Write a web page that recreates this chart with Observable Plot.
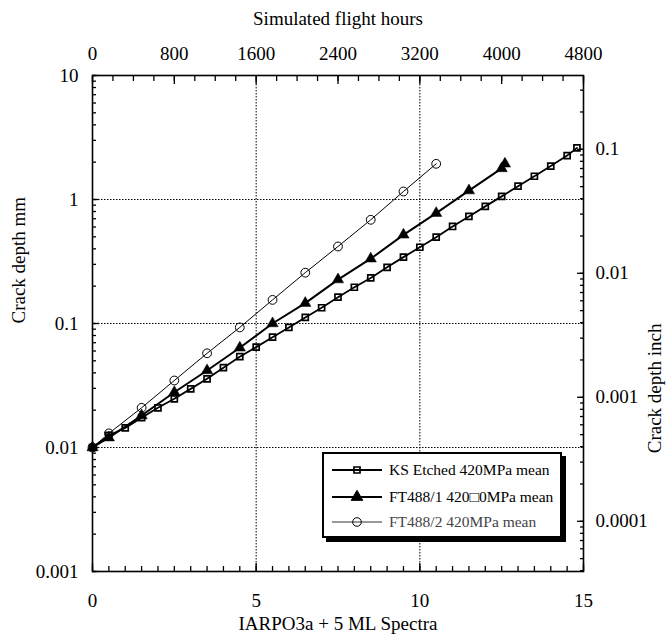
<!DOCTYPE html>
<html><head><meta charset="utf-8">
<script src="https://cdn.jsdelivr.net/npm/d3@7"></script>
<script src="https://cdn.jsdelivr.net/npm/@observablehq/plot@0.6"></script>
<style>
body{margin:0;background:#fff;}
#wrap{position:relative;width:667px;height:634px;}
#legend{position:absolute;left:322px;top:452px;width:240px;height:86px;box-sizing:border-box;border:2px solid #000;box-shadow:4px 4px 0 #000;background:#fff;font-family:"Liberation Serif",serif;font-size:15.5px;color:#000;}
#legend .row{position:absolute;left:8px;height:20px;display:flex;align-items:center;white-space:nowrap;}
#legend svg{display:block;margin-right:5px;}
</style></head><body><div id="wrap"></div>
<script>
// ---- data (crack depth in mm vs. number of IARPO3a + 5 ML spectra) ----
const ksSpectra = [0,0.5,1,1.5,2,2.5,3,3.5,4,4.5,5,5.5,6,6.5,7,7.5,8,8.5,9,9.5,10,10.5,11,11.5,12,12.5,13,13.5,14,14.5,14.8];
const ksDepth   = [0.01,0.0125,0.0144,0.0174,0.0209,0.0247,0.0297,0.0358,0.044,0.054,0.0645,0.0776,0.093,0.112,0.134,0.163,0.196,0.233,0.284,0.343,0.412,0.497,0.606,0.73,0.88,1.06,1.28,1.54,1.86,2.26,2.61];
const ft1Spectra = [0,0.5,1.5,2.5,3.5,4.5,5.5,6.5,7.5,8.5,9.5,10.5,11.5,12.5,12.6];
const ft1Depth   = [0.01,0.012,0.0181,0.0279,0.0418,0.0637,0.1,0.146,0.226,0.333,0.519,0.776,1.18,1.78,1.94];
const ft2Spectra = [0,0.5,1.5,2.5,3.5,4.5,5.5,6.5,7.5,8.5,9.5,10.5];
const ft2Depth   = [0.01,0.013,0.0209,0.0347,0.0575,0.093,0.155,0.257,0.418,0.686,1.16,1.94];

const seriesNames = ["KS Etched 420MPa mean", "FT488/1 420\u25A10MPa mean", "FT488/2 420MPa mean"];

const spectraTicks = [0,5,10,15];
const spectraLabels = ["0","5","10","15"];
const hourTicks = [0,800,1600,2400,3200,4000,4800];
const hourLabels = ["0","800","1600","2400","3200","4000","4800"];
const hoursPerSpectrum = 320;
const mmTicks = [0.001,0.01,0.1,1,10];
const mmLabels = ["0.001","0.01","0.1","1","10"];
const inchTicks = [0.0001,0.001,0.01,0.1];
const inchLabels = ["0.0001","0.001","0.01","0.1"];
const mmPerInch = 25.4;
const gridSpectra = [5,10];
const gridDepth = [0.01,0.1,1];

const xTitle = "IARPO3a + 5 ML Spectra";
const topTitle = "Simulated flight hours";
const yTitle = "Crack depth mm";
const y2Title = "Crack depth inch";

// ---- build table ----
const rows = [];
ksSpectra.forEach((s,i)=>rows.push({s, d: ksDepth[i], series: seriesNames[0]}));
ft1Spectra.forEach((s,i)=>rows.push({s, d: ft1Depth[i], series: seriesNames[1]}));
ft2Spectra.forEach((s,i)=>rows.push({s, d: ft2Depth[i], series: seriesNames[2]}));
const ks = rows.filter(r=>r.series===seriesNames[0]);
const ft1 = rows.filter(r=>r.series===seriesNames[1]);
const ft2 = rows.filter(r=>r.series===seriesNames[2]);

// tick positions
const minorSpectra = d3.range(0, 15.001, 0.5);
const minorHours = d3.range(0, 4801, 200).map(h=>h/hoursPerSpectrum);
const majorHours = hourTicks.map(h=>h/hoursPerSpectrum);
const yDomain = [0.001, 10];
const inRange = v => v >= yDomain[0]*0.9999 && v <= yDomain[1]*1.0001;
const minorMm = [];
for (const dec of mmTicks) for (let k=1;k<10;k++) { const v = dec*k; if (inRange(v)) minorMm.push(v); }
const minorInch = [];
for (const dec of [0.00001,0.0001,0.001,0.01,0.1]) for (let k=1;k<10;k++) { const v = dec*k*mmPerInch; if (inRange(v)) minorInch.push(v); }
const majorInch = inchTicks.map(v=>v*mmPerInch);

const font = "Liberation Serif";
const axisStyle = {stroke: "#000", strokeWidth: 1.3};
const chart = Plot.plot({
  width: 667, height: 634,
  marginLeft: 92, marginRight: 84, marginTop: 75, marginBottom: 63,
  style: {fontFamily: font, fontSize: "19px", color: "#000", background: "#fff", overflow: "visible"},
  x: {type: "linear", domain: [0, 15]},
  y: {type: "log", domain: yDomain},
  marks: [
    Plot.gridX(gridSpectra, {stroke: "#000", strokeOpacity: 1, strokeWidth: 1, strokeDasharray: "1.5,1.5"}),
    Plot.gridY(gridDepth, {stroke: "#000", strokeOpacity: 1, strokeWidth: 1, strokeDasharray: "1.5,1.5"}),
    // bottom axis
    Plot.axisX(minorSpectra, {anchor: "bottom", tickSize: -5, text: null, label: null, ...axisStyle}),
    Plot.axisX(spectraTicks, {anchor: "bottom", tickSize: -8, text: null, label: null, ...axisStyle}),
    Plot.axisX(spectraTicks, {anchor: "bottom", tickSize: 0, tickPadding: 22, tickFormat: d=>spectraLabels[spectraTicks.indexOf(d)], label: null}),
    // top axis (flight hours)
    Plot.axisX(minorHours, {anchor: "top", tickSize: -5, text: null, label: null, ...axisStyle}),
    Plot.axisX(majorHours, {anchor: "top", tickSize: -8, text: null, label: null, ...axisStyle}),
    Plot.axisX(majorHours, {anchor: "top", tickSize: 0, tickPadding: 16, tickFormat: d=>hourLabels[majorHours.indexOf(d)], label: null}),
    // left axis (mm)
    Plot.axisY(minorMm, {anchor: "left", tickSize: -4, text: null, label: null, ...axisStyle}),
    Plot.axisY(mmTicks, {anchor: "left", tickSize: -7, text: null, label: null, ...axisStyle}),
    Plot.axisY(mmTicks, {anchor: "left", tickSize: 0, tickPadding: 14, tickFormat: d=>mmLabels[mmTicks.indexOf(d)], label: null}),
    // right axis (inch)
    Plot.axisY(minorInch, {anchor: "right", tickSize: -4, text: null, label: null, ...axisStyle}),
    Plot.axisY(majorInch, {anchor: "right", tickSize: -7, text: null, label: null, ...axisStyle}),
    Plot.axisY(majorInch, {anchor: "right", tickSize: 0, tickPadding: 12, tickFormat: d=>inchLabels[majorInch.indexOf(d)], label: null}),
    // titles
    Plot.text([xTitle], {text: d=>d, frameAnchor: "bottom", dy: 52, fontSize: 19, lineAnchor: "middle"}),
    Plot.text([topTitle], {text: d=>d, frameAnchor: "top", dy: -57, fontSize: 19, lineAnchor: "middle"}),
    Plot.text([yTitle], {text: d=>d, frameAnchor: "left", dx: -74, rotate: -90, fontSize: 19, lineAnchor: "middle"}),
    Plot.text([y2Title], {text: d=>d, frameAnchor: "right", dx: 71, rotate: -90, fontSize: 19, lineAnchor: "middle"}),
    // data
    Plot.line(ft2, {x: "s", y: "d", stroke: "#000", strokeWidth: 1}),
    Plot.line(ks, {x: "s", y: "d", stroke: "#000", strokeWidth: 1.8}),
    Plot.line(ft1, {x: "s", y: "d", stroke: "#000", strokeWidth: 2}),
    Plot.dot(ft2, {x: "s", y: "d", r: 4.4, stroke: "#000", strokeWidth: 1, fill: "none"}),
    Plot.dot(ks, {x: "s", y: "d", symbol: "square", r: 3.4, stroke: "#000", strokeWidth: 1.7, fill: "none"}),
    Plot.dot(ft1, {x: "s", y: "d", symbol: "triangle", r: 4.2, stroke: "#000", strokeWidth: 0.5, fill: "#000"}),
    Plot.frame({stroke: "#000", strokeWidth: 1.6})
  ]
});
const wrap = document.getElementById("wrap");
wrap.appendChild(chart);

// legend
const legend = document.createElement("div");
legend.id = "legend";
const legendRows = [
  {name: seriesNames[0], sym: "square", lw: 1.8, color: "#000"},
  {name: seriesNames[1], sym: "triangle", lw: 2, color: "#000"},
  {name: seriesNames[2], sym: "circle", lw: 1, color: "#444"}
];
const rowTops = [6, 33, 58];
legendRows.forEach((r, i) => {
  const div = document.createElement("div");
  div.className = "row";
  div.style.top = rowTops[i] + "px";
  div.style.color = r.color;
  const svg = d3.create("svg").attr("width", 52).attr("height", 20);
  svg.append("line").attr("x1", 0).attr("x2", 50).attr("y1", 10).attr("y2", 10).attr("stroke", r.color === "#000" ? "#000" : "#333").attr("stroke-width", r.lw);
  const symType = r.sym === "square" ? d3.symbolSquare : r.sym === "triangle" ? d3.symbolTriangle : d3.symbolCircle;
  const size = r.sym === "square" ? Math.PI * 3.4 * 3.4 : Math.PI * 4.3 * 4.3;
  svg.append("path").attr("transform", "translate(25,10)").attr("d", d3.symbol(symType, size)())
    .attr("fill", r.sym === "triangle" ? "#000" : "none").attr("stroke", "#000").attr("stroke-width", r.sym === "square" ? 1.7 : 1);
  div.appendChild(svg.node());
  const span = document.createElement("span");
  span.textContent = r.name;
  div.appendChild(span);
  legend.appendChild(div);
});
wrap.appendChild(legend);
</script>
</body></html>
